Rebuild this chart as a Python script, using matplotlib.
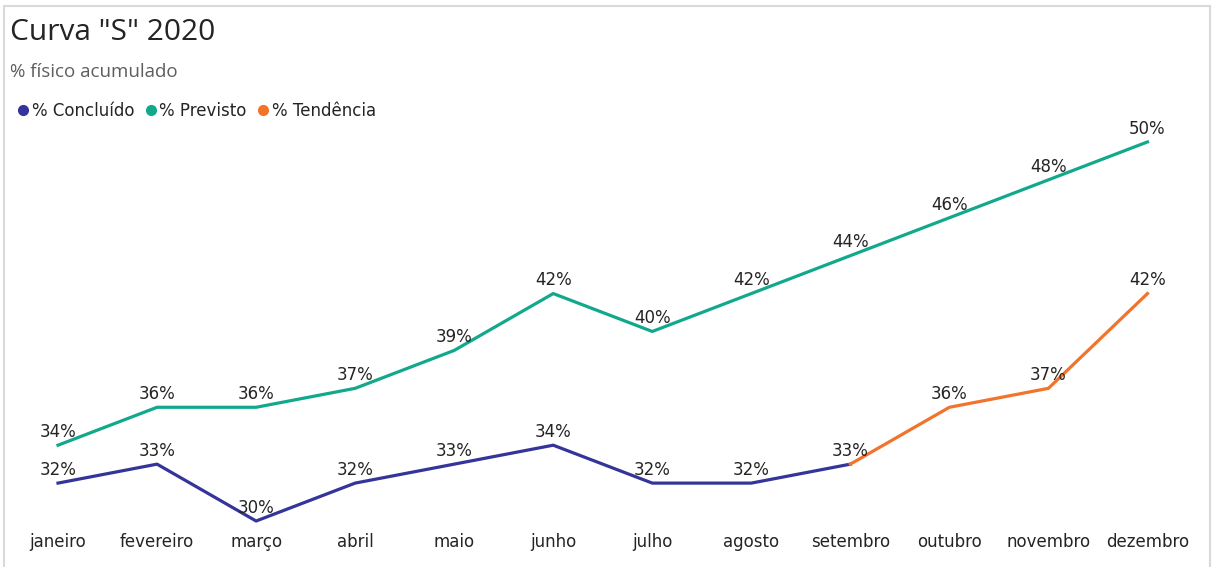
import matplotlib.pyplot as plt
from matplotlib.lines import Line2D
from matplotlib.patches import Rectangle

plt.rcParams["font.family"] = "DejaVu Sans"

meses = ["janeiro", "fevereiro", "março", "abril", "maio", "junho",
         "julho", "agosto", "setembro", "outubro", "novembro", "dezembro"]
concluido = [32, 33, 30, 32, 33, 34, 32, 32, 33]
previsto = [34, 36, 36, 37, 39, 42, 40, 42, 44, 46, 48, 50]
tendencia = [33, 36, 37, 42]  # setembro a dezembro

cor_concluido = "#34349a"
cor_previsto = "#12a88c"
cor_tendencia = "#f2732b"

fig = plt.figure(figsize=(12.14, 5.67), dpi=100)
fig.patches.append(Rectangle((0.003, -0.01), 0.994, 1.0, transform=fig.transFigure,
                             fill=False, edgecolor="#d9d9d9", linewidth=1.5))

ax = fig.add_axes([0.007, 0.0644, 0.979, 0.702])

x_all = list(range(len(meses)))
x_conc = x_all[:len(concluido)]
x_tend = x_all[len(concluido) - 1:]

ax.plot(x_all, previsto, color=cor_previsto, linewidth=2.3)
ax.plot(x_conc, concluido, color=cor_concluido, linewidth=2.3)
ax.plot(x_tend, tendencia, color=cor_tendencia, linewidth=2.3)


def rotular(xs, ys):
    for x, y in zip(xs, ys):
        ax.annotate(f"{y}%", (x, y), xytext=(0, 3), textcoords="offset points",
                    ha="center", va="bottom", fontsize=12, color="#252423")


rotular(x_all, previsto)
rotular(x_conc, concluido)
rotular(x_tend[1:], tendencia[1:])

ax.set_xlim(-0.5, 11.5)
ax.set_ylim(29.5, 50.5)
ax.set_xticks(x_all)
ax.set_xticklabels(meses, fontsize=12, color="#252423")
ax.tick_params(axis="x", length=0, pad=2)
ax.set_yticks([])
for s in ax.spines.values():
    s.set_visible(False)

fig.text(0.008, 0.942, 'Curva "S" 2020', fontsize=21.5, family="Open Sans",
         color="#252423", va="center")
fig.text(0.008, 0.873, "% físico acumulado", fontsize=13.5, family="Open Sans",
         color="#605e5c", va="center")

handles = [Line2D([], [], marker="o", linestyle="none", color=c, markersize=7)
           for c in (cor_concluido, cor_previsto, cor_tendencia)]
fig.legend(handles, ["% Concluído", "% Previsto", "% Tendência"],
           loc="center left", bbox_to_anchor=(0.0, 0.805), ncol=3, frameon=False,
           fontsize=12, handletextpad=0.0, columnspacing=0.5, handlelength=1.0,
           labelcolor="#252423")

fig.savefig("out.png", dpi=100)
